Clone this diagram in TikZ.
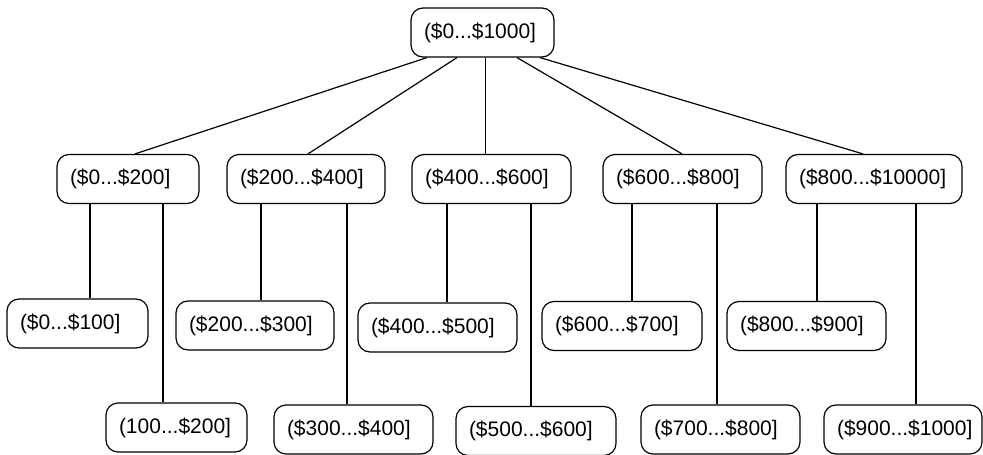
\documentclass[tikz,border=0pt]{standalone}
\usepackage{fontspec}
\setmainfont{Liberation Sans}
\usepackage{tikz}

\begin{document}
\begin{tikzpicture}[
  x=1pt, y=-1pt,
  rng/.style={draw=black, rounded corners=12pt, line width=1.2pt,
              minimum height=49, inner xsep=13pt, inner ysep=0pt,
              align=left, font=\fontsize{21}{24}\selectfont},
  lnk/.style={draw=black, line width=1.2pt},
]
\useasboundingbox (0,0) rectangle (983,455);

% ============ root interval ============
\node[rng, text width=117] (root) at (482.5,32.5) {(\$0...\$1000]};

% ============ first split ============
\node[rng, text width=116] (A) at (128,179)   {(\$0...\$200]};
\node[rng, text width=132] (B) at (306,179)   {(\$200...\$400]};
\node[rng, text width=133] (C) at (491.5,179) {(\$400...\$600]};
\node[rng, text width=133] (D) at (682.5,179) {(\$600...\$800]};
\node[rng, text width=150] (E) at (874,179)   {(\$800...\$10000]};

% ============ second split, upper row ============
\node[rng, text width=115] (a1) at (77.5,323.5)  {(\$0...\$100]};
\node[rng, text width=132] (b1) at (255,325.5)   {(\$200...\$300]};
\node[rng, text width=133] (c1) at (437.5,327.5) {(\$400...\$500]};
\node[rng, text width=134] (d1) at (622,326)     {(\$600...\$700]};
\node[rng, text width=133] (e1) at (806.5,326)   {(\$800...\$900]};

% ============ second split, lower row ============
\node[rng, text width=115] (a2) at (176.5,427.5) {(100...\$200]};
\node[rng, text width=133] (b2) at (353.5,429.5) {(\$300...\$400]};
\node[rng, text width=134] (c2) at (536,431)     {(\$500...\$600]};
\node[rng, text width=133] (d2) at (720.5,429.5) {(\$700...\$800]};
\node[rng, text width=132] (e2) at (903,429.5)   {(\$900...\$1000]};

% root -> first split
\draw[lnk] ([xshift=-55.5]root.south) -- ([xshift=7]A.north);
\draw[lnk] ([xshift=-25.5]root.south) -- ([xshift=2]B.north);
\draw[lnk] ([xshift=3]root.south)     -- ([xshift=-6]C.north);
\draw[lnk] ([xshift=34.5]root.south)  -- ([xshift=-0.5]D.north);
\draw[lnk] ([xshift=57.5]root.south)  -- ([xshift=-11]E.north);

% first split -> second split
\draw[lnk] ([xshift=-38]A.south)   -- ([xshift=12.5]a1.north);
\draw[lnk] ([xshift=35]A.south)    -- ([xshift=-13.5]a2.north);
\draw[lnk] ([xshift=-45]B.south)   -- ([xshift=6]b1.north);
\draw[lnk] ([xshift=41]B.south)    -- ([xshift=-6.5]b2.north);
\draw[lnk] ([xshift=-44.5]C.south) -- ([xshift=9.5]c1.north);
\draw[lnk] ([xshift=39.5]C.south)  -- ([xshift=-5]c2.north);
\draw[lnk] ([xshift=-50.5]D.south) -- ([xshift=10]d1.north);
\draw[lnk] ([xshift=34.5]D.south)  -- ([xshift=-3.5]d2.north);
\draw[lnk] ([xshift=-57]E.south)   -- ([xshift=10.5]e1.north);
\draw[lnk] ([xshift=42]E.south)    -- ([xshift=13]e2.north);

\end{tikzpicture}
\end{document}
